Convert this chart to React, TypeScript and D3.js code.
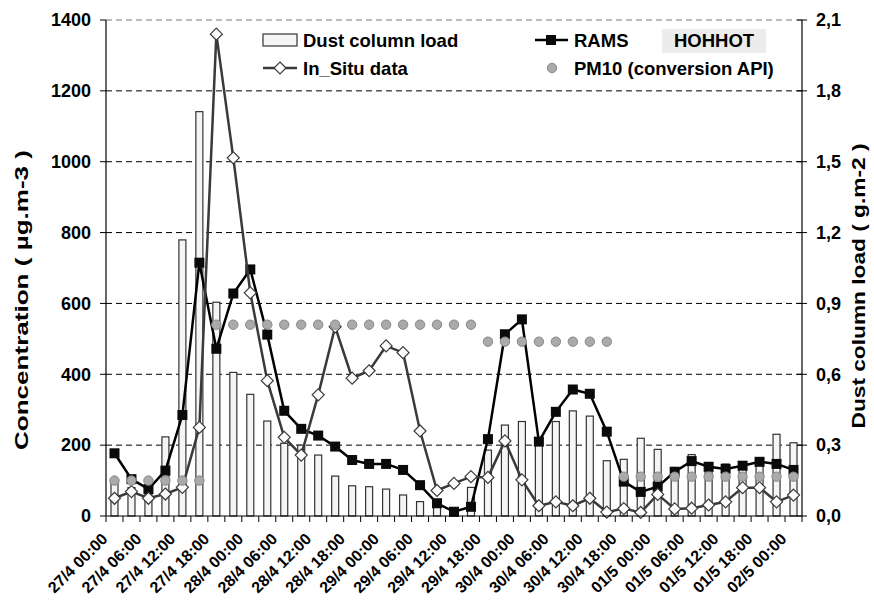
import React from "react";
import * as d3 from "d3";

const days = ["27/4", "28/4", "29/4", "30/4", "01/5", "02/5"];
const hours = ["00:00", "03:00", "06:00", "09:00", "12:00", "15:00", "18:00", "21:00"];
const categories: string[] = days.flatMap((d) => hours.map((h) => `${d} ${h}`)).slice(0, 41);

const dustLoad = [0.14, 0.12, 0.1, 0.335, 1.169, 1.712, 0.905, 0.608, 0.515, 0.402, 0.308, 0.3, 0.258, 0.169, 0.128, 0.124, 0.114, 0.089, 0.061, 0.04, 0.02, 0.121, 0.279, 0.385, 0.4, 0.33, 0.4, 0.445, 0.423, 0.234, 0.24, 0.329, 0.282, 0.2, 0.26, 0.22, 0.22, 0.23, 0.23, 0.346, 0.31];
const rams = [177, 104, 76, 128, 285, 715, 472, 628, 696, 512, 297, 246, 227, 196, 158, 147, 147, 130, 87, 36, 12, 26, 217, 513, 555, 210, 294, 357, 345, 238, 97, 68, 83, 125, 155, 139, 133, 142, 153, 147, 130];
const inSitu = [50, 69, 50, 62, 81, 250, 1360, 1011, 630, 382, 222, 172, 342, 534, 389, 410, 480, 461, 240, 72, 92, 111, 109, 212, 102, 29, 40, 29, 50, 11, 21, 10, 61, 20, 22, 31, 40, 80, 80, 40, 59];
const pm10 = [100, 100, 100, 100, 100, 100, 540, 540, 540, 540, 540, 540, 540, 540, 540, 540, 540, 540, 540, 540, 540, 540, 492, 492, 492, 492, 492, 492, 492, 492, 111, 111, 111, 111, 111, 111, 111, 111, 111, 111, 111];

const leftTicks = [0, 200, 400, 600, 800, 1000, 1200, 1400];
const rightTicks = [0, 0.3, 0.6, 0.9, 1.2, 1.5, 1.8, 2.1];

const W = 874, H = 602;
const L = 106, R = 802, T = 20, B = 516;
const FONT = "'Liberation Sans', Arial, sans-serif";

export default function App() {
  const x = d3.scaleBand<string>().domain(categories).range([L, R]).padding(0);
  const yL = d3.scaleLinear().domain([0, 1400]).range([B, T]);
  const yR = d3.scaleLinear().domain([0, 2.1]).range([B, T]);
  const cx = (i: number) => (x(categories[i]) as number) + x.bandwidth() / 2;
  const barW = 7;

  const lineGen = d3.line<number>().x((_, i) => cx(i)).y((v) => yL(v));
  const diamond = (px: number, py: number, r: number) =>
    `M${px},${py - r}L${px + r},${py}L${px},${py + r}L${px - r},${py}Z`;

  return (
    <div style={{ position: "absolute", left: 0, top: 0 }}>
      <svg width={W} height={H} style={{ display: "block", fontFamily: FONT }}>
        <rect width={W} height={H} fill="#fff" />
        {leftTicks.filter((t) => t > 0).map((t) => (
          <line key={t} x1={L} x2={R} y1={yL(t)} y2={yL(t)} stroke={t === 1400 ? "#777" : "#000"} strokeWidth={1} strokeDasharray="6,4" />
        ))}
        {dustLoad.map((v, i) => (
          <rect key={i} x={cx(i) - barW / 2} y={yR(v)} width={barW} height={B - yR(v)} fill="#f5f5f5" stroke="#333" strokeWidth={1.2} />
        ))}
        <path d={lineGen(rams) as string} fill="none" stroke="#000" strokeWidth={2.5} />
        {rams.map((v, i) => (
          <rect key={i} x={cx(i) - 5} y={yL(v) - 5} width={10} height={10} fill="#0a0a0a" />
        ))}
        <path d={lineGen(inSitu) as string} fill="none" stroke="#3a3a3a" strokeWidth={2.5} />
        {inSitu.map((v, i) => (
          <path key={i} d={diamond(cx(i), yL(v), 6)} fill="#fcfcfc" stroke="#3a3a3a" strokeWidth={1.2} />
        ))}
        {pm10.map((v, i) => (
          <circle key={i} cx={cx(i)} cy={yL(v)} r={4.7} fill="#aaa" stroke="#888" strokeWidth={1} />
        ))}
        <line x1={L} x2={L} y1={T} y2={B} stroke="#000" strokeWidth={1.2} />
        <line x1={R} x2={R} y1={T} y2={B} stroke="#000" strokeWidth={1.2} />
        <line x1={L} x2={R} y1={B} y2={B} stroke="#000" strokeWidth={1.2} />
        {leftTicks.map((t) => (
          <g key={t}>
            <line x1={L - 6} x2={L} y1={yL(t)} y2={yL(t)} stroke="#000" />
            <text x={91} y={yL(t)} dy="0.35em" textAnchor="end" fontSize={18} fontWeight="bold">{t}</text>
          </g>
        ))}
        {rightTicks.map((t) => (
          <g key={t}>
            <line x1={R - 5} x2={R + 5} y1={yR(t)} y2={yR(t)} stroke="#000" />
            <text x={816} y={yR(t)} dy="0.35em" textAnchor="start" fontSize={18} fontWeight="bold">{t.toFixed(1).replace(".", ",")}</text>
          </g>
        ))}
        {categories.map((c) => (
          <line key={c} x1={x(c) as number} x2={x(c) as number} y1={B} y2={B + 6} stroke="#000" />
        ))}
        <line x1={R} x2={R} y1={B} y2={B + 6} stroke="#000" />
        {categories.map((c, i) =>
          i % 2 === 0 ? (
            <text key={c} transform={`translate(${cx(i) - 6},${540}) rotate(-45)`} textAnchor="end" fontSize={16} fontWeight="bold">{c}</text>
          ) : null
        )}
        <text transform={`translate(28,300) rotate(-90)`} textAnchor="middle" fontSize={19} fontWeight="bold" textLength={300} lengthAdjust="spacingAndGlyphs">Concentration ( µg.m-3 )</text>
        <text transform={`translate(865,286) rotate(-90)`} textAnchor="middle" fontSize={19} fontWeight="bold" textLength={285} lengthAdjust="spacingAndGlyphs">Dust column load ( g.m-2 )</text>
        <rect x={263} y={34} width={34} height={12} fill="#f5f5f5" stroke="#333" strokeWidth={1.2} />
        <text x={303} y={47} fontSize={18.5} fontWeight="bold">Dust column load</text>
        <line x1={263} x2={297} y1={68} y2={68} stroke="#3a3a3a" strokeWidth={2.5} />
        <path d={diamond(280, 68, 6)} fill="#fcfcfc" stroke="#3a3a3a" strokeWidth={1.2} />
        <text x={303} y={75} fontSize={18.5} fontWeight="bold">In_Situ data</text>
        <line x1={535} x2={568} y1={40} y2={40} stroke="#000" strokeWidth={2.5} />
        <rect x={546} y={35} width={10} height={10} fill="#0a0a0a" />
        <text x={574} y={47} fontSize={18.5} fontWeight="bold">RAMS</text>
        <circle cx={552} cy={68} r={4.7} fill="#aaa" stroke="#888" />
        <text x={574} y={75} fontSize={18.5} fontWeight="bold">PM10 (conversion API)</text>
        <rect x={662} y={29} width={104} height={24} fill="#ececec" />
        <text x={714} y={47} textAnchor="middle" fontSize={18.5} fontWeight="bold">HOHHOT</text>
      </svg>
    </div>
  );
}
